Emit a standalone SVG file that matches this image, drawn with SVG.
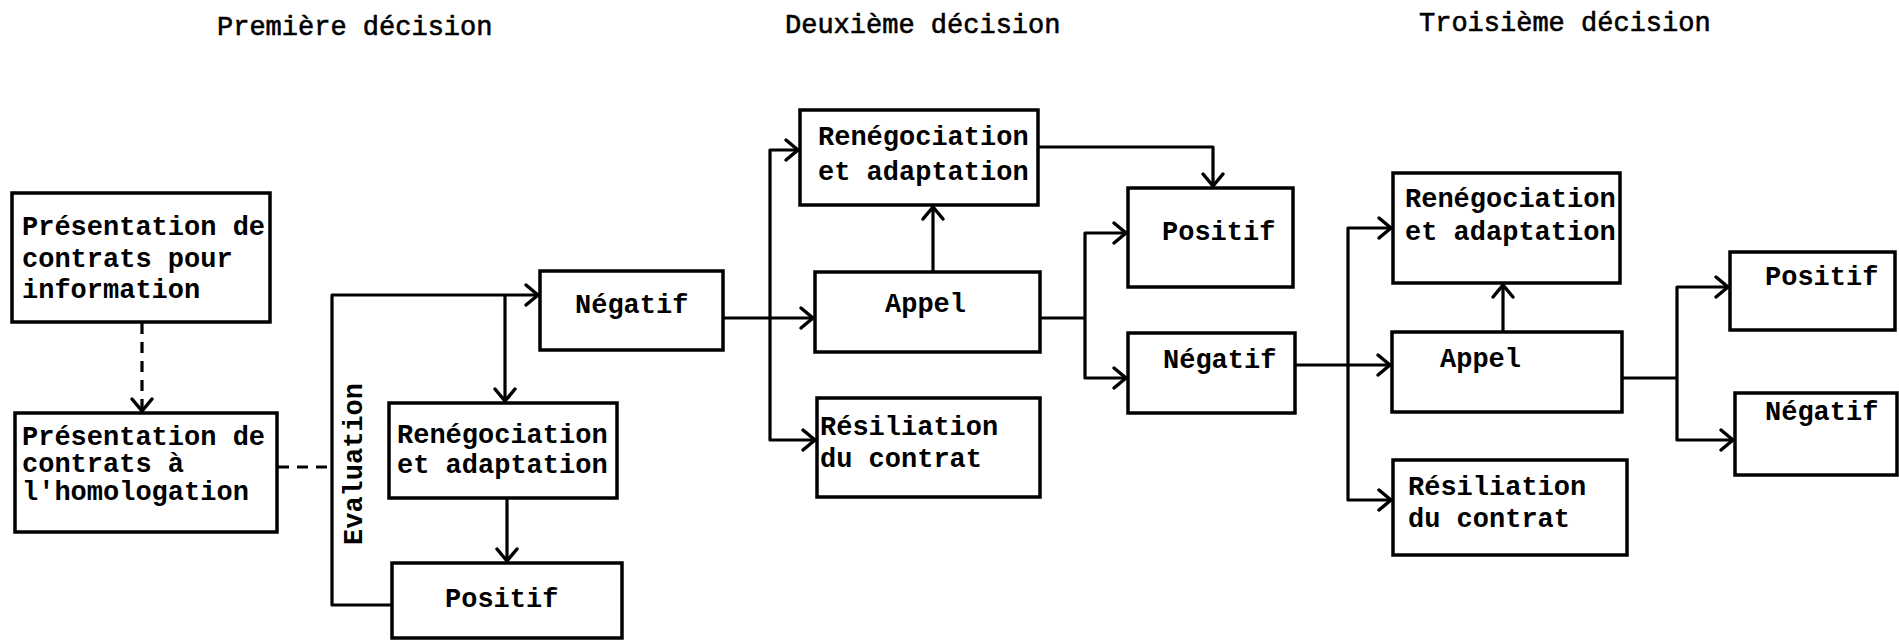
<svg xmlns="http://www.w3.org/2000/svg" width="1899" height="641" viewBox="0 0 1899 641">
<style>
.box{fill:#fff;stroke:#000;stroke-width:3.5}
.t{font-family:"Liberation Mono","DejaVu Sans Mono",monospace;font-size:27px;font-weight:bold;fill:#000}
.h{font-family:"Liberation Mono","DejaVu Sans Mono",monospace;font-size:27px;font-weight:normal;fill:#000;stroke:#000;stroke-width:0.6}
.c{fill:none;stroke:#000;stroke-width:3.2;stroke-linejoin:round}
.a{marker-end:url(#arr)}
.d{stroke-dasharray:11 8}
</style>
<defs>
<marker id="arr" markerUnits="userSpaceOnUse" markerWidth="30" markerHeight="30" viewBox="-15 -15 30 30" refX="0" refY="0" orient="auto">
<path d="M-12,-10 L0,0 L-12,10" fill="none" stroke="#000" stroke-width="3.5" stroke-linecap="round" stroke-linejoin="round"/>
</marker>
</defs>
<g id="titles">
<text class="h" x="217" y="35">Première décision</text>
<text class="h" x="785" y="33">Deuxième décision</text>
<text class="h" x="1419" y="31">Troisième décision</text>
</g>
<g id="connectors">
<path class="c d a" d="M142,323 L142,411"/>
<path class="c d" d="M278,467 L331,467"/>
<path class="c a" d="M392,605 L332,605 L332,295 L538,295"/>
<path class="c a" d="M505,295 L505,401"/>
<path class="c a" d="M507,498 L507,561"/>
<path class="c a" d="M723,318 L813,318"/>
<path class="c a" d="M770,318 L770,150 L798,150"/>
<path class="c a" d="M770,318 L770,440 L815,440"/>
<path class="c a" d="M933,272 L933,207"/>
<path class="c" d="M1040,318 L1085,318"/>
<path class="c a" d="M1085,318 L1085,233 L1126,233"/>
<path class="c a" d="M1085,318 L1085,378 L1126,378"/>
<path class="c a" d="M1038,147 L1213,147 L1213,186"/>
<path class="c a" d="M1295,365 L1390,365"/>
<path class="c a" d="M1348,365 L1348,228 L1391,228"/>
<path class="c a" d="M1348,365 L1348,500 L1391,500"/>
<path class="c a" d="M1503,332 L1503,285"/>
<path class="c" d="M1622,378 L1677,378"/>
<path class="c a" d="M1677,378 L1677,287 L1728,287"/>
<path class="c a" d="M1677,378 L1677,440 L1733,440"/>
</g>
<g id="evaluation">
<text class="t" transform="translate(362,545) rotate(-90)">Evaluation</text>
</g>
<g id="n-info">
<rect class="box" x="12" y="193" width="258" height="129"/>
<text class="t" x="22" y="235">Présentation de</text>
<text class="t" x="22" y="267">contrats pour</text>
<text class="t" x="22" y="298">information</text>
</g>
<g id="n-homolog">
<rect class="box" x="15" y="413" width="262" height="119"/>
<text class="t" x="22" y="445">Présentation de</text>
<text class="t" x="22" y="472">contrats à</text>
<text class="t" x="22" y="500">l'homologation</text>
</g>
<g id="n-neg1">
<rect class="box" x="540" y="271" width="183" height="79"/>
<text class="t" x="575" y="313">Négatif</text>
</g>
<g id="n-ren1">
<rect class="box" x="389" y="403" width="228" height="95"/>
<text class="t" x="397" y="443">Renégociation</text>
<text class="t" x="397" y="473">et adaptation</text>
</g>
<g id="n-pos1">
<rect class="box" x="392" y="563" width="230" height="75"/>
<text class="t" x="445" y="607">Positif</text>
</g>
<g id="n-ren2">
<rect class="box" x="800" y="110" width="238" height="95"/>
<text class="t" x="818" y="145">Renégociation</text>
<text class="t" x="818" y="180">et adaptation</text>
</g>
<g id="n-appel2">
<rect class="box" x="815" y="272" width="225" height="80"/>
<text class="t" x="885" y="312">Appel</text>
</g>
<g id="n-res2">
<rect class="box" x="817" y="398" width="223" height="99"/>
<text class="t" x="820" y="435">Résiliation</text>
<text class="t" x="820" y="467">du contrat</text>
</g>
<g id="n-pos2">
<rect class="box" x="1128" y="188" width="165" height="99"/>
<text class="t" x="1162" y="240">Positif</text>
</g>
<g id="n-neg2">
<rect class="box" x="1128" y="333" width="167" height="80"/>
<text class="t" x="1163" y="368">Négatif</text>
</g>
<g id="n-ren3">
<rect class="box" x="1393" y="173" width="227" height="110"/>
<text class="t" x="1405" y="207">Renégociation</text>
<text class="t" x="1405" y="240">et adaptation</text>
</g>
<g id="n-appel3">
<rect class="box" x="1392" y="332" width="230" height="80"/>
<text class="t" x="1440" y="367">Appel</text>
</g>
<g id="n-res3">
<rect class="box" x="1393" y="460" width="234" height="95"/>
<text class="t" x="1408" y="495">Résiliation</text>
<text class="t" x="1408" y="527">du contrat</text>
</g>
<g id="n-pos3">
<rect class="box" x="1730" y="252" width="165" height="78"/>
<text class="t" x="1765" y="285">Positif</text>
</g>
<g id="n-neg3">
<rect class="box" x="1735" y="393" width="162" height="82"/>
<text class="t" x="1765" y="420">Négatif</text>
</g>
</svg>
